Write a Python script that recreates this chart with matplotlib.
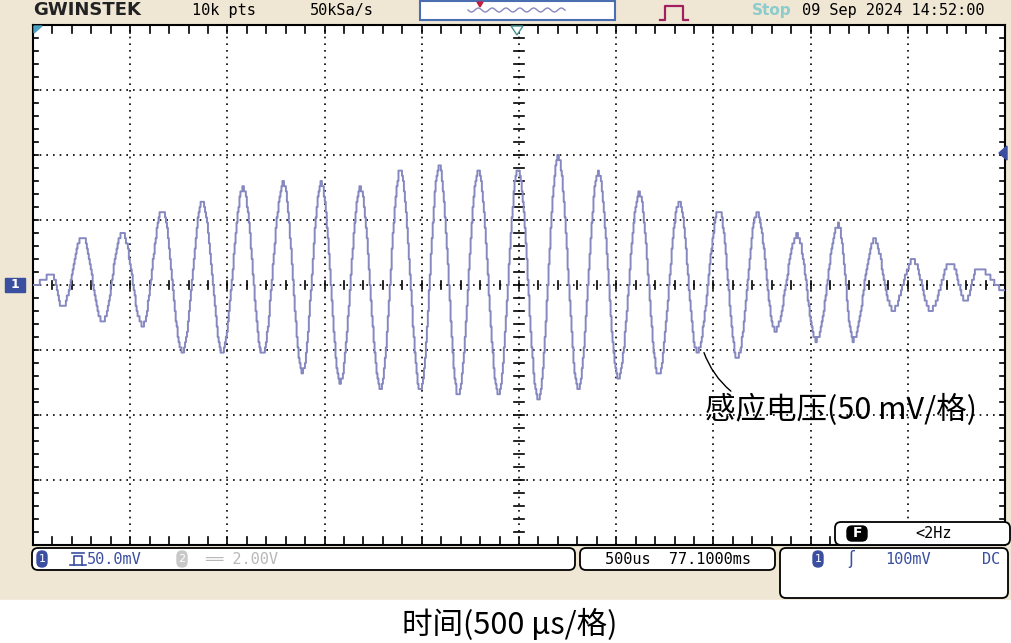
import numpy as np
import matplotlib.pyplot as plt
from matplotlib.patches import FancyBboxPatch, Rectangle, Polygon

# waveform extremes: time (us from left edge), voltage (mV)
t_ext = [0, 98, 149, 252, 355, 458, 561, 664, 767, 870, 972, 1080, 1178, 1286, 1384, 1481,
         1579, 1682, 1785, 1888, 1991, 2088, 2186, 2289, 2392, 2494, 2597, 2700, 2803, 2906,
         3009, 3117, 3215, 3323, 3415, 3528, 3621, 3724, 3816, 3930, 4027, 4141, 4217, 4326,
         4420, 4527, 4614, 4720, 4795, 4860, 4999]
v_ext = [0, 7.7, -16.9, 37.7, -28.5, 40.0, -30.8, 57.7, -51.5, 63.8, -51.5, 74.6, -53.8, 78.5,
         -66.9, 78.5, -74.6, 74.6, -79.2, 88.5, -80.8, 91.5, -85.4, 88.5, -83.1, 90.0, -88.5,
         98.5, -79.2, 86.2, -71.5, 70.8, -69.2, 63.1, -51.5, 57.7, -56.2, 55.4, -34.6, 38.5,
         -42.3, 46.2, -42.3, 34.6, -19.2, 19.2, -19.2, 17.7, -11.5, 13.1, -3.8]

us_per_div = 500
mv_per_div = 50
n_xdiv, n_ydiv = 10, 8

W, H = 1011, 643
fig = plt.figure(figsize=(W/100, H/100), dpi=100)
fig.patch.set_facecolor('#efe6d4')
bg = fig.add_axes([0, 0, 1, 1])
bg.set_xlim(0, W); bg.set_ylim(H, 0); bg.axis('off')
bg.add_patch(Rectangle((0, 600), W, 43, color='white', zorder=0))

L, T, R, B = 33, 25, 1005, 545
ax = fig.add_axes([L/W, 1-B/H, (R-L)/W, (B-T)/H])
ax.set_facecolor('white')
ax.set_xlim(0, n_xdiv*us_per_div)
ax.set_ylim(-n_ydiv/2*mv_per_div, n_ydiv/2*mv_per_div)
ax.set_xticks([]); ax.set_yticks([])
for s in ax.spines.values():
    s.set_linewidth(1.5); s.set_color('black')

for i in range(1, n_xdiv):
    ax.axvline(i*us_per_div, color='black', ls=(0, (1, 3)), lw=1.2)
for j in range(1, n_ydiv):
    ax.axhline((j - n_ydiv/2)*mv_per_div, color='black', ls=(0, (1, 3)), lw=1.2)
xc = n_xdiv*us_per_div/2
for k in range(1, n_xdiv*5):
    x = k*us_per_div/5
    ax.plot([x, x], [-3, 3], color='black', lw=1.2)
    ax.plot([x, x], [200, 194], color='black', lw=1.2)
    ax.plot([x, x], [-200, -194], color='black', lw=1.2)
for k in range(1, n_ydiv*5):
    y = -200 + k*mv_per_div/5
    ax.plot([xc-25, xc+25], [y, y], color='black', lw=1.2)
    ax.plot([0, 25], [y, y], color='black', lw=1.2)
    ax.plot([5000-25, 5000], [y, y], color='black', lw=1.2)

ts, vs = [], []
for i in range(len(t_ext)-1):
    tt = np.arange(t_ext[i], t_ext[i+1], 5.0)
    f = (1 - np.cos(np.pi*(tt - t_ext[i])/(t_ext[i+1]-t_ext[i])))/2
    ts.append(tt); vs.append(v_ext[i] + (v_ext[i+1]-v_ext[i])*f)
ts = np.concatenate(ts); vs = np.concatenate(vs)
vs = np.round(vs/4)*4
ax.step(ts, vs, where='post', color='#8688c0', lw=1.4, zorder=5)
ax.annotate('', xy=(3447, -50), xytext=(3601, -83),
            arrowprops=dict(arrowstyle='-', color='black', lw=1,
                            connectionstyle='arc3,rad=-0.15'))

ov = fig.add_axes([0, 0, 1, 1])
ov.set_xlim(0, W); ov.set_ylim(H, 0); ov.axis('off')
ov.patch.set_alpha(0)

ov.text(977, 410, '感应电压(50 mV/格)', fontsize=22, ha='right', va='center',
        family=['Noto Sans CJK SC', 'DejaVu Sans'])
ov.text(510, 625, '时间(500 μs/格)', fontsize=22, ha='center', va='center',
        family=['Noto Sans CJK SC', 'DejaVu Sans'])

mono = 'DejaVu Sans Mono'
ov.text(33, 10, 'GWINSTEK', fontsize=13, fontweight='bold', va='center', color='#222')
ov.text(192, 10, '10k pts', fontsize=11, va='center', family=mono)
ov.text(310, 10, '50kSa/s', fontsize=11, va='center', family=mono)
ov.add_patch(Rectangle((420, 1), 195, 19, facecolor='white', edgecolor='#4a6fb0', lw=1.5))
wx = np.linspace(468, 565, 200)
ov.plot(wx, 10 + 2*np.sin((wx-468)/2.2), color='#8688c0', lw=1)
ov.add_patch(Polygon([[477, 2], [483, 2], [480, 7]], color='#c02040'))
ov.plot([660, 665, 665, 683, 683, 688], [20, 20, 6, 6, 20, 20], color='#a02060', lw=1.6)
ov.text(752, 10, 'Stop', fontsize=11, fontweight='bold', va='center', color='#8ccccc')
ov.text(802, 10, '09 Sep 2024 14:52:00', fontsize=11, va='center', family=mono)

ov.add_patch(Rectangle((5, 278), 20, 14, color='#3a4fa0'))
ov.text(15, 285, '1', color='white', fontsize=9, ha='center', va='center', fontweight='bold')
ov.add_patch(Polygon([[1007, 146], [1007, 160], [999, 153]], color='#3a4fa0'))
ov.add_patch(Polygon([[511, 26], [523, 26], [517, 35]], facecolor='white', edgecolor='#4a9090'))
ov.add_patch(Polygon([[34, 26], [42, 26], [34, 33]], color='#4aa0c0'))

def rbox(x0, y0, x1, y1, fc='white'):
    ov.add_patch(FancyBboxPatch((x0, y0), x1-x0, y1-y0, boxstyle='round,pad=0,rounding_size=6',
                                facecolor=fc, edgecolor='black', lw=1.3))
rbox(835, 522, 1010, 545)
ov.add_patch(FancyBboxPatch((847, 526), 20, 15, boxstyle='round,pad=0,rounding_size=5', color='black'))
ov.text(857, 533, 'F', color='white', fontsize=10, ha='center', va='center', fontweight='bold')
ov.text(915, 533, '<2Hz', fontsize=11, va='center', family=mono)

rbox(32, 548, 575, 570)
rbox(580, 548, 775, 570)
rbox(780, 548, 1008, 598)
def chip(x, y, c):
    ov.add_patch(FancyBboxPatch((x-5, y-8), 10, 16, boxstyle='round,pad=0,rounding_size=5', color=c))
chip(42, 559, '#3a4fa0'); ov.text(42, 559, '1', color='white', fontsize=8, ha='center', va='center')
ov.plot([72, 84], [553, 553], color='#3a4fa0', lw=1.2)
ov.plot([74, 74, 82, 82], [565, 556, 556, 565], color='#3a4fa0', lw=1.2)
ov.plot([70, 86], [565, 565], color='#3a4fa0', lw=1.2)
ov.text(87, 559, '50.0mV', fontsize=11, va='center', family=mono, color='#3a4fa0')
chip(182, 559, '#c8c8c8'); ov.text(182, 559, '2', color='white', fontsize=8, ha='center', va='center')
ov.text(205, 559, '══ 2.00V', fontsize=11, va='center', family=mono, color='#b8b8b8')
ov.text(605, 559, '500us  77.1000ms', fontsize=11, va='center', family=mono)
chip(818, 559, '#3a4fa0'); ov.text(818, 559, '1', color='white', fontsize=8, ha='center', va='center')
ov.text(848, 559, 'ʃ', fontsize=12, va='center', color='#3a4fa0')
ov.text(885, 559, '100mV', fontsize=11, va='center', family=mono, color='#3a4fa0')
ov.text(982, 559, 'DC', fontsize=11, va='center', family=mono, color='#3a4fa0')

fig.savefig('out.png', dpi=100, facecolor=fig.get_facecolor())
